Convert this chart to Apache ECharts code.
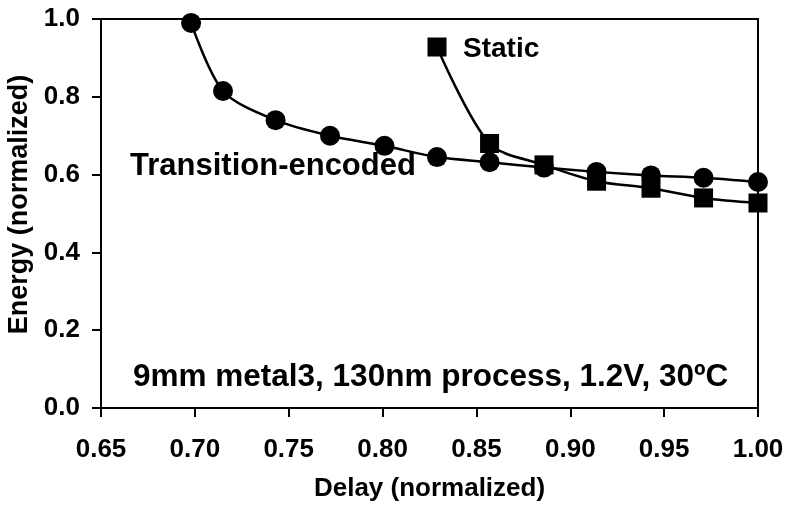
<!DOCTYPE html>
<html>
<head>
<meta charset="utf-8">
<script src="https://cdn.jsdelivr.net/npm/echarts@6/dist/echarts.min.js"></script>
<style>
html, body { margin: 0; padding: 0; background: #fff; }
#container { width: 787px; height: 506px; }
</style>
</head>
<body>
<div id="container"></div>
<script>
let chart = echarts.init(document.getElementById('container'));

// values
var encDelay = [0.698, 0.715, 0.743, 0.772, 0.801, 0.829, 0.857, 0.886, 0.914, 0.943, 0.971, 1.0];
var encEnergy = [0.99, 0.815, 0.74, 0.70, 0.674, 0.645, 0.632, 0.618, 0.607, 0.598, 0.592, 0.581];
var staticDelay = [0.829, 0.857, 0.886, 0.914, 0.943, 0.971, 1.0];
var staticEnergy = [0.928, 0.68, 0.625, 0.583, 0.565, 0.54, 0.527];

var font = 'Liberation Sans, Arial, sans-serif';

function pairs(xs, ys) {
    return xs.map((x, i) => [x, ys[i]]);
}

var option = {
    backgroundColor: '#fff',
    animation: false,
    grid: {
        left: 101,
        right: 29,
        top: 19,
        bottom: 98,
        outerBoundsMode: 'none',
        show: true,
        borderColor: '#000',
        borderWidth: 2,
    },
    xAxis: {
        type: 'value',
        min: 0.65,
        max: 1.0,
        interval: 0.05,
        name: 'Delay (normalized)',
        nameLocation: 'middle',
        nameGap: 68,
        nameTextStyle: { fontFamily: font, fontWeight: 'bold', fontSize: 26, color: '#000' },
        axisLine: { lineStyle: { color: '#000', width: 2 } },
        axisTick: { inside: false, length: 9, lineStyle: { color: '#000', width: 2 } },
        axisLabel: {
            formatter: v => v.toFixed(2),
            fontFamily: font, fontWeight: 'bold', fontSize: 26, color: '#000',
            margin: 29,
        },
        splitLine: { show: false },
    },
    yAxis: {
        type: 'value',
        min: 0,
        max: 1.0,
        interval: 0.2,
        name: 'Energy (normalized)',
        nameLocation: 'middle',
        nameGap: 65,
        nameTextStyle: {
            fontFamily: font, fontWeight: 'bold', fontSize: 27, color: '#000',
            padding: [0, 0, 0, 18],
        },
        axisLine: { lineStyle: { color: '#000', width: 2 } },
        axisTick: { inside: false, length: 9, lineStyle: { color: '#000', width: 2 } },
        axisLabel: {
            formatter: v => v.toFixed(1),
            fontFamily: font, fontWeight: 'bold', fontSize: 26, color: '#000',
            margin: 21,
        },
        splitLine: { show: false },
    },
    graphic: [
        {
            type: 'text', left: 463, top: 35,
            style: { text: 'Static', font: 'bold 28px ' + font, fill: '#000' },
        },
        {
            type: 'text', left: 130, top: 151,
            style: { text: 'Transition-encoded', font: 'bold 31px ' + font, fill: '#000' },
        },
        {
            type: 'text', left: 133, top: 361,
            style: { text: '9mm metal3, 130nm process, 1.2V, 30ºC', font: 'bold 31.5px ' + font, fill: '#000' },
        },
    ],
    series: [
        {
            name: 'Transition-encoded',
            type: 'line',
            smooth: 0.3,
            clip: false,
            symbol: 'circle',
            symbolSize: 20,
            itemStyle: { color: '#000' },
            lineStyle: { color: '#000', width: 2.5 },
            data: pairs(encDelay, encEnergy),
        },
        {
            name: 'Static',
            type: 'line',
            smooth: 0.3,
            clip: false,
            symbol: 'rect',
            symbolSize: 19,
            itemStyle: { color: '#000' },
            lineStyle: { color: '#000', width: 2.5 },
            data: pairs(staticDelay, staticEnergy),
        },
    ],
};
chart.setOption(option);
</script>
</body>
</html>
